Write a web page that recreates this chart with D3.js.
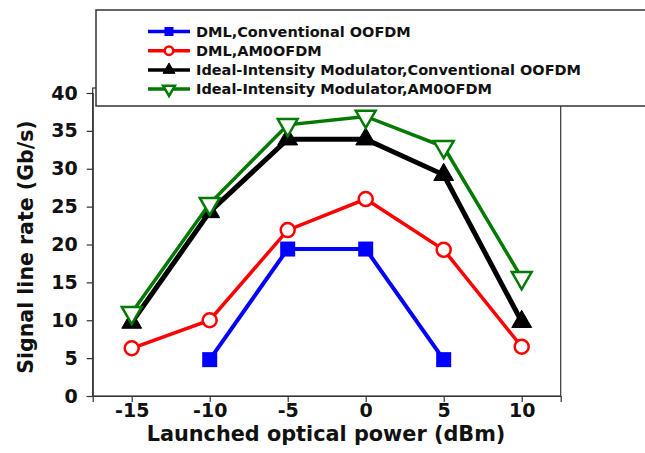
<html lang="en">
  <head>
    <meta charset="utf-8">
    <script src="https://d3js.org/d3.v7.min.js"></script>
    <style>
      body { margin: 0; background: #fff; }
      text { font-family: 'DejaVu Sans', Verdana, sans-serif; font-weight: bold; }
    </style>
  </head>
  <body>
    <div id="container"></div>
    <script>
      // launched optical power (dBm)
      const power = [-15, -10, -5, 0, 5, 10]
      // signal line rate (Gb/s), null = not measured
      const dmlConv = [null, 4.8, 19.4, 19.4, 4.8, null]
      const dmlAmo = [6.3, 10.0, 21.9, 26.0, 19.3, 6.5]
      const idealConv = [9.7, 24.3, 33.9, 33.9, 29.2, 9.8]
      const idealAmo = [11.0, 25.4, 35.8, 36.9, 32.9, 15.6]
      const seriesNames = ['DML,Conventional OOFDM', 'DML,AM0OFDM',
        'Ideal-Intensity Modulator,Conventional OOFDM', 'Ideal-Intensity Modulator,AM0OFDM']
      const xTicks = [-15, -10, -5, 0, 5, 10]
      const yTicks = [0, 5, 10, 15, 20, 25, 30, 35, 40]

      const series = [
        { name: seriesNames[0], values: dmlConv, color: '#0000ff', width: 4, marker: 'square' },
        { name: seriesNames[1], values: dmlAmo, color: '#ff0000', width: 3.5, marker: 'circle' },
        { name: seriesNames[2], values: idealConv, color: '#000000', width: 5, marker: 'up' },
        { name: seriesNames[3], values: idealAmo, color: '#007a00', width: 3.5, marker: 'down' }
      ]

      const svg = d3.select('#container').append('svg')
        .attr('width', 645)
        .attr('height', 453)

      const x = d3.scaleLinear().domain([-17.5, 12.5]).range([92.7, 560.7])
      const y = d3.scaleLinear().domain([0, 40]).range([396, 93])

      // plot frame
      svg.append('rect')
        .attr('x', 92.7).attr('y', 88)
        .attr('width', 560.7 - 92.7).attr('height', 396 - 88)
        .attr('fill', 'none')
        .attr('stroke', '#333')
        .attr('stroke-width', 1.2)

      // axes (plain hyphen for negatives, as in the original)
      let yAxis = svg.append('g')
        .attr('transform', 'translate(92.7,0)')
        .call(d3.axisLeft(y).tickValues(yTicks).tickFormat(d => String(d)).tickSize(6).tickPadding(9))
      let xAxis = svg.append('g')
        .attr('transform', 'translate(0,396)')
        .call(d3.axisBottom(x).tickValues(xTicks).tickFormat(d => String(d)).tickSize(6).tickPadding(2))
      ;[xAxis, yAxis].forEach(a => {
        a.select('.domain').attr('stroke', '#333').attr('stroke-width', 1.2)
        a.selectAll('.tick line').attr('stroke', '#333').attr('stroke-width', 1.2)
        a.selectAll('.tick text')
          .attr('font-size', 19)
          .attr('font-family', 'DejaVu Sans')
          .attr('font-weight', 'bold')
          .attr('fill', '#111')
      })

      // axis titles
      svg.append('text')
        .attr('x', 326).attr('y', 441)
        .attr('text-anchor', 'middle')
        .attr('font-size', 20.8)
        .attr('fill', '#111')
        .text('Launched optical power (dBm)')
      svg.append('text')
        .attr('transform', 'translate(33,247) rotate(-90)')
        .attr('text-anchor', 'middle')
        .attr('font-size', 20.5)
        .attr('fill', '#111')
        .text('Signal line rate (Gb/s)')

      let drawMarker = (g, s, cx, cy, k) => {
        if (s.marker === 'square') {
          g.append('rect')
            .attr('x', cx - 7.5 * k).attr('y', cy - 7.5 * k)
            .attr('width', 15 * k).attr('height', 15 * k)
            .attr('fill', s.color)
        } else if (s.marker === 'circle') {
          g.append('circle')
            .attr('cx', cx).attr('cy', cy).attr('r', 7 * k)
            .attr('fill', '#fff').attr('stroke', s.color).attr('stroke-width', 2.5)
        } else {
          let tri = d3.symbol().type(d3.symbolTriangle).size(170 * k * k)
          g.append('path')
            .attr('d', tri())
            .attr('transform', `translate(${cx},${cy})` + (s.marker === 'down' ? ' rotate(180)' : ''))
            .attr('fill', s.marker === 'up' ? s.color : '#fff')
            .attr('stroke', s.color)
            .attr('stroke-width', s.marker === 'up' ? 1 : 2.5)
        }
      }

      // series lines and markers
      const line = d3.line()
        .defined(d => d[1] !== null)
        .x(d => x(d[0]))
        .y(d => y(d[1]))
      series.forEach(s => {
        let pts = power.map((p, i) => [p, s.values[i]])
        let g = svg.append('g')
        g.append('path')
          .attr('d', line(pts))
          .attr('fill', 'none')
          .attr('stroke', s.color)
          .attr('stroke-width', s.width)
        pts.filter(d => d[1] !== null).forEach(d => drawMarker(g, s, x(d[0]), y(d[1]), 1))
      })

      // legend
      let legend = svg.append('g')
      legend.append('rect')
        .attr('x', 96).attr('y', 10)
        .attr('width', 600).attr('height', 96)
        .attr('fill', '#fff')
        .attr('stroke', '#333')
        .attr('stroke-width', 1.5)
      series.forEach((s, i) => {
        let ly = 31.5 + i * 19.2
        let g = legend.append('g')
        g.append('line')
          .attr('x1', 148).attr('x2', 190)
          .attr('y1', ly).attr('y2', ly)
          .attr('stroke', s.color)
          .attr('stroke-width', 3.5)
        drawMarker(g, s, 169, ly, 0.6)
        g.append('text')
          .attr('x', 196).attr('y', ly + 5)
          .attr('font-size', 14.5)
          .attr('fill', '#111')
          .text(s.name)
      })
    </script>
  </body>
</html>
